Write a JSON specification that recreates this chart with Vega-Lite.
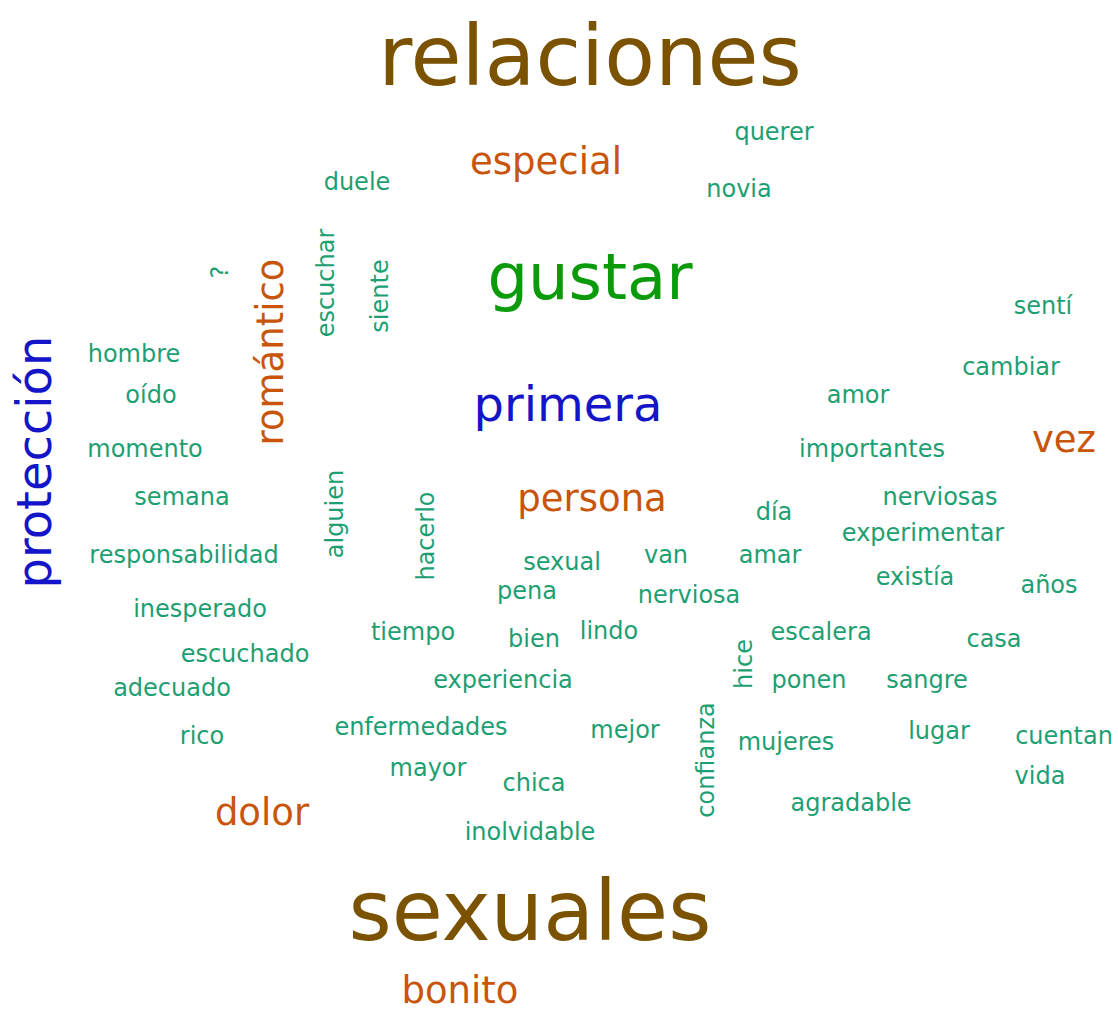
{
  "$schema": "https://vega.github.io/schema/vega-lite/v6.json",
  "autosize": {"type": "fit", "contains": "padding"},
  "width": 1118,
  "height": 1012,
  "padding": 0,
  "background": "white",
  "config": {"view": {"stroke": null}},
  "data": {"values": [
    {"w":"relaciones","f":10,"o":"h","x":590,"y":85},
    {"w":"sexuales","f":10,"o":"h","x":530,"y":940},
    {"w":"gustar","f":8,"o":"h","x":590,"y":299},
    {"w":"primera","f":6,"o":"h","x":568,"y":421},
    {"w":"protección","f":6,"o":"v","x":51,"y":462},
    {"w":"especial","f":4,"o":"h","x":546,"y":174},
    {"w":"persona","f":4,"o":"h","x":592,"y":511},
    {"w":"romántico","f":4,"o":"v","x":283,"y":352},
    {"w":"vez","f":4,"o":"h","x":1064,"y":452},
    {"w":"dolor","f":4,"o":"h","x":262,"y":825},
    {"w":"bonito","f":4,"o":"h","x":460,"y":1003},
    {"w":"querer","f":2,"o":"h","x":774,"y":140},
    {"w":"duele","f":2,"o":"h","x":357,"y":190},
    {"w":"novia","f":2,"o":"h","x":739,"y":197},
    {"w":"?","f":2,"o":"v","x":228,"y":272},
    {"w":"escuchar","f":2,"o":"v","x":334,"y":283},
    {"w":"siente","f":2,"o":"v","x":388,"y":296},
    {"w":"sentí","f":2,"o":"h","x":1043,"y":314},
    {"w":"hombre","f":2,"o":"h","x":134,"y":362},
    {"w":"cambiar","f":2,"o":"h","x":1011,"y":375},
    {"w":"oído","f":2,"o":"h","x":151,"y":403},
    {"w":"amor","f":2,"o":"h","x":858,"y":403},
    {"w":"momento","f":2,"o":"h","x":145,"y":457},
    {"w":"importantes","f":2,"o":"h","x":872,"y":457},
    {"w":"semana","f":2,"o":"h","x":182,"y":505},
    {"w":"nerviosas","f":2,"o":"h","x":940,"y":505},
    {"w":"día","f":2,"o":"h","x":774,"y":520},
    {"w":"experimentar","f":2,"o":"h","x":923,"y":541},
    {"w":"alguien","f":2,"o":"v","x":343,"y":514},
    {"w":"hacerlo","f":2,"o":"v","x":434,"y":536},
    {"w":"responsabilidad","f":2,"o":"h","x":184,"y":563},
    {"w":"sexual","f":2,"o":"h","x":562,"y":570},
    {"w":"van","f":2,"o":"h","x":666,"y":563},
    {"w":"amar","f":2,"o":"h","x":770,"y":563},
    {"w":"existía","f":2,"o":"h","x":915,"y":585},
    {"w":"años","f":2,"o":"h","x":1049,"y":593},
    {"w":"pena","f":2,"o":"h","x":527,"y":599},
    {"w":"nerviosa","f":2,"o":"h","x":689,"y":603},
    {"w":"inesperado","f":2,"o":"h","x":200,"y":617},
    {"w":"tiempo","f":2,"o":"h","x":413,"y":640},
    {"w":"bien","f":2,"o":"h","x":534,"y":647},
    {"w":"lindo","f":2,"o":"h","x":609,"y":639},
    {"w":"escalera","f":2,"o":"h","x":821,"y":640},
    {"w":"casa","f":2,"o":"h","x":994,"y":647},
    {"w":"escuchado","f":2,"o":"h","x":245,"y":662},
    {"w":"hice","f":2,"o":"v","x":752,"y":664},
    {"w":"adecuado","f":2,"o":"h","x":172,"y":696},
    {"w":"experiencia","f":2,"o":"h","x":503,"y":688},
    {"w":"ponen","f":2,"o":"h","x":809,"y":688},
    {"w":"sangre","f":2,"o":"h","x":927,"y":688},
    {"w":"rico","f":2,"o":"h","x":202,"y":744},
    {"w":"enfermedades","f":2,"o":"h","x":421,"y":735},
    {"w":"mejor","f":2,"o":"h","x":625,"y":738},
    {"w":"mujeres","f":2,"o":"h","x":786,"y":750},
    {"w":"lugar","f":2,"o":"h","x":939,"y":739},
    {"w":"cuentan","f":2,"o":"h","x":1064,"y":744},
    {"w":"confianza","f":2,"o":"v","x":714,"y":760},
    {"w":"mayor","f":2,"o":"h","x":428,"y":776},
    {"w":"chica","f":2,"o":"h","x":534,"y":791},
    {"w":"vida","f":2,"o":"h","x":1040,"y":784},
    {"w":"agradable","f":2,"o":"h","x":851,"y":811},
    {"w":"inolvidable","f":2,"o":"h","x":530,"y":840}
  ]},
  "mark": {"type": "text", "font": "DejaVu Sans", "align": "center", "baseline": "alphabetic"},
  "encoding": {
    "text": {"field": "w", "type": "nominal"},
    "x": {"field": "x", "type": "quantitative", "scale": {"domain": [0, 1118], "nice": false, "zero": false}, "axis": null},
    "y": {"field": "y", "type": "quantitative", "scale": {"domain": [0, 1012], "nice": false, "zero": false, "reverse": true}, "axis": null},
    "size": {"field": "f", "type": "quantitative", "scale": {"domain": [2, 4, 6, 8, 10], "range": [24, 37, 48, 64, 83]}, "legend": null},
    "color": {"field": "f", "type": "ordinal", "scale": {"domain": [2, 4, 6, 8, 10], "range": ["#1e9f72", "#c8550a", "#1414c8", "#0a9a0a", "#7a5200"]}, "legend": null},
    "angle": {"field": "o", "type": "nominal", "scale": {"domain": ["h", "v"], "range": [0, 270]}, "legend": null}
  }
}
